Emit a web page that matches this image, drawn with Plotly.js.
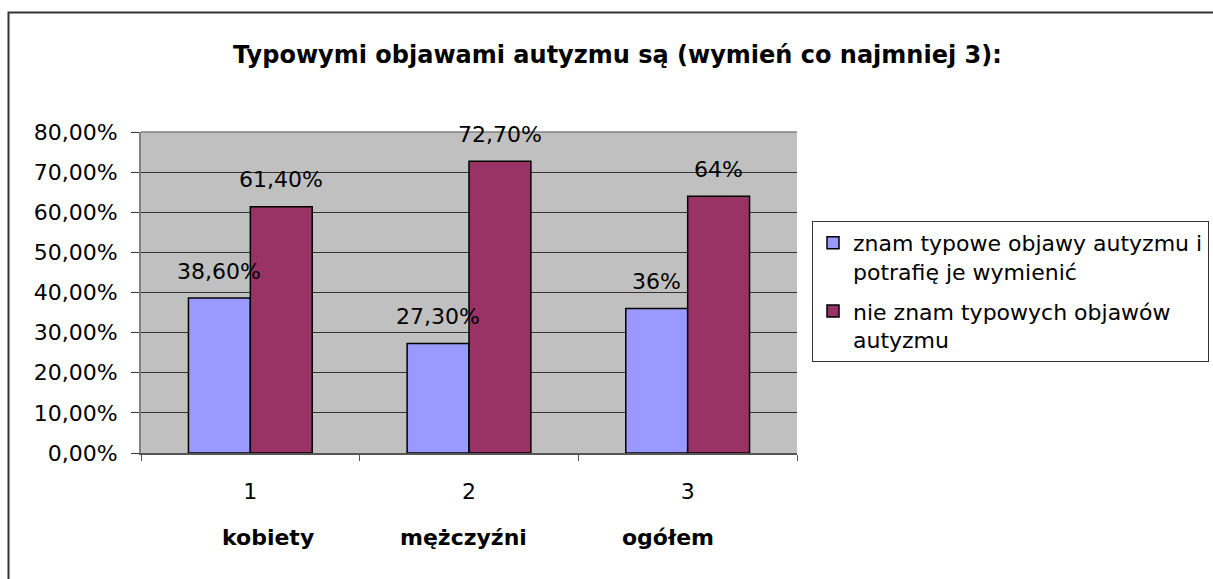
<!DOCTYPE html>
<html>
<head>
<meta charset="utf-8">
<script src="https://cdn.plot.ly/plotly-3.0.1.min.js"></script>
<style>
html,body{margin:0;padding:0;background:#fff;}
#chart{width:1213px;height:579px;}
</style>
</head>
<body>
<div id="chart"></div>
<script>
const categories = ["1", "2", "3"];
const groupNames = ["kobiety", "mężczyźni", "ogółem"];
const seriesNames = ["znam typowe objawy autyzmu i<br>potrafię je wymienić", "nie znam typowych objawów<br>autyzmu"];
const knowValues = [0.386, 0.273, 0.36];
const dontKnowValues = [0.614, 0.727, 0.64];
const knowLabels = ["38,60%", "27,30%", "36%"];
const dontKnowLabels = ["61,40%", "72,70%", "64%"];
const titleText = "Typowymi objawami autyzmu są (wymień co najmniej 3):";

const FONT = "DejaVu Sans, Liberation Sans, Arial, sans-serif";
const FS = 22;

const traces = [
  {type: "bar", x: categories, y: knowValues, name: seriesNames[0], legendgroup: "a",
   marker: {color: "#9999FF", line: {color: "#000", width: 1.5}}, hoverinfo: "none"},
  {type: "bar", x: categories, y: dontKnowValues, name: seriesNames[1], legendgroup: "b",
   marker: {color: "#993366", line: {color: "#000", width: 1.5}}, hoverinfo: "none"}
];

const annotations = [];
const barOffset = 31;
categories.forEach((c, i) => {
  annotations.push({x: i, y: knowValues[i], xref: "x", yref: "y", text: knowLabels[i],
    showarrow: false, xshift: -barOffset, yshift: 27, yanchor: "middle",
    font: {family: FONT, size: FS, color: "#000"}});
  annotations.push({x: i, y: dontKnowValues[i], xref: "x", yref: "y", text: dontKnowLabels[i],
    showarrow: false, xshift: barOffset, yshift: 27, yanchor: "middle",
    font: {family: FONT, size: FS, color: "#000"}});
});
const nameShift = [18, -6, -20];
groupNames.forEach((g, i) => {
  annotations.push({x: i, y: -0.262, xref: "x", yref: "paper", text: "<b>" + g + "</b>",
    showarrow: false, xshift: nameShift[i], yanchor: "middle",
    font: {family: FONT, size: FS, color: "#000"}});
});

// outer frame (open at right and bottom)
const px = (v) => (v - 141) / 656;
const py = (v) => (453 - v) / 321;
const shapes = [
  {type: "path", xref: "paper", yref: "paper",
   path: `M ${px(8.5)},${py(600)} L ${px(8.5)},${py(12.5)} L ${px(1230)},${py(12.5)}`,
   line: {color: "#333", width: 2}},
  {type: "line", xref: "paper", yref: "paper", x0: 0, x1: 1, y0: 1, y1: 1,
   line: {color: "#808080", width: 1.5}}
];

const layout = {
  width: 1213, height: 579,
  margin: {l: 141, r: 416, t: 132, b: 126, pad: 0, autoexpand: false},
  paper_bgcolor: "#fff",
  plot_bgcolor: "#C0C0C0",
  separators: ", ",
  font: {family: FONT, size: FS, color: "#000"},
  title: {text: "<b>" + titleText + "</b>", x: 0.509, xanchor: "center", y: 1 - 55/579, yanchor: "middle",
          font: {family: FONT, size: 24, color: "#000"}},
  barmode: "group",
  bargap: 0.434,
  bargroupgap: 0,
  showlegend: true,
  legend: {x: px(812), y: py(221), xanchor: "left", yanchor: "top",
           bordercolor: "#333", borderwidth: 1, bgcolor: "#fff",
           font: {family: FONT, size: FS, color: "#000"}, valign: "top",
           traceorder: "grouped", tracegroupgap: 8, itemwidth: 30},
  xaxis: {type: "category", range: [-0.5, 2.5], showgrid: false, showline: true, linecolor: "#555", linewidth: 1.5,
          ticks: "outside", tickson: "boundaries", ticklen: 6, tickcolor: "#555",
          ticklabelstandoff: 18, zeroline: false, fixedrange: true},
  yaxis: {range: [0, 0.8], dtick: 0.1, tickformat: ".2%", showgrid: true, gridcolor: "#333", gridwidth: 1,
          showline: true, linecolor: "#808080", linewidth: 2, ticks: "outside", ticklen: 8, tickcolor: "#333",
          ticklabelstandoff: 9, zeroline: false, fixedrange: true},
  annotations: annotations,
  shapes: shapes
};

Plotly.newPlot("chart", traces, layout, {displayModeBar: false, staticPlot: true});
</script>
</body>
</html>
